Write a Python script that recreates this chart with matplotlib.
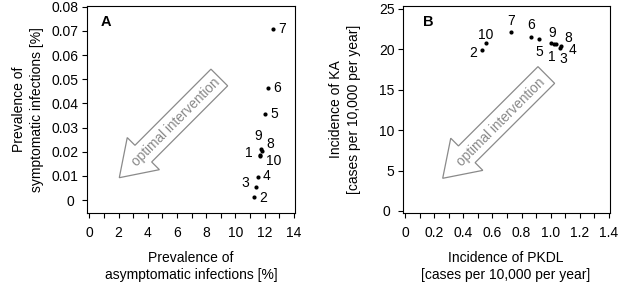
import numpy as np
import matplotlib
matplotlib.use("Agg")
import matplotlib.pyplot as plt
from matplotlib.patches import Polygon

plt.rcParams['font.family'] = ['Liberation Sans', 'DejaVu Sans']
plt.rcParams['font.size'] = 10

# ---------------- data ----------------
scenario = ['1', '2', '3', '4', '5', '6', '7', '8', '9', '10']
asym_prev = [11.66, 11.27, 11.38, 11.52, 12.02, 12.24, 12.54, 11.78, 11.76, 11.70]
sym_prev = [0.0186, 0.0011, 0.0052, 0.0094, 0.0354, 0.0462, 0.0707, 0.0202, 0.0211, 0.0182]
pkdl_inc = [1.02, 0.53, 1.065, 1.07, 0.92, 0.865, 0.725, 1.035, 1.00, 0.555]
ka_inc = [20.7, 19.95, 20.2, 20.45, 21.25, 21.55, 22.1, 20.7, 20.75, 20.75]

xticks_a = [0, 2, 4, 6, 8, 10, 12, 14]
yticks_a = [0, 0.01, 0.02, 0.03, 0.04, 0.05, 0.06, 0.07, 0.08]
yticklabels_a = ['0 ', '0.01', '0.02', '0.03', '0.04', '0.05', '0.06', '0.07', '0.08']
xticks_b = [0, 0.2, 0.4, 0.6, 0.8, 1.0, 1.2, 1.4]
xticklabels_b = ['0', '0.2', '0.4', '0.6', '0.8', '1.0', '1.2', '1.4']
yticks_b = [0, 5, 10, 15, 20, 25]
yticklabels_b = ['0 ', '5', '10', '15', '20', '25']

# label offsets (pixels, +y = down) for the scenario numbers
off_a = [(-11, -2), (9, 1), (-10, -4), (9, -1), (9, 0), (9, 0), (9, 0), (9, -7), (-3, -13), (13, 5)]
off_b = [(-2, 13), (-9, 3), (3, 11), (12, 4), (0, 13), (0, -12), (0, -11), (12, -6), (1, -10), (0, -8)]

W, H = 622, 287
fig = plt.figure(figsize=(W / 100, H / 100), dpi=100)

axA = fig.add_axes([87 / W, (H - 213) / H, 208 / W, 207 / H])
axB = fig.add_axes([403 / W, (H - 213) / H, 207 / W, 207 / H])

def style(ax):
    for s in ax.spines.values():
        s.set_linewidth(0.8)
        s.set_color('black')
    ax.tick_params(direction='out', length=3.6, width=0.8, colors='black',
                   labelsize=10)
    ax.tick_params(axis='x', which='both', pad=5.5, length=3.6, width=0.8)
    ax.tick_params(axis='y', pad=2.5)

px2pt = 0.72

# ---- Panel A ----
axA.scatter(asym_prev, sym_prev, s=9, color='black', zorder=3, linewidths=0)
for lab, x, y, (dx, dy) in zip(scenario, asym_prev, sym_prev, off_a):
    axA.annotate(lab, (x, y), xytext=(dx * px2pt, -dy * px2pt),
                 textcoords='offset points', ha='center', va='center', fontsize=10)
axA.set_xlim(-0.157, 14.07)
axA.set_ylim(-0.00537, 0.0803)
axA.set_xticks(xticks_a)
axA.set_xticks(np.arange(0, 15, 1), minor=True)
axA.set_yticks(yticks_a)
axA.set_yticklabels(yticklabels_a)
style(axA)
axA.text(0.066, 0.957, 'A', transform=axA.transAxes, fontweight='bold',
         fontsize=10.5, ha='left', va='top')

# ---- Panel B ----
axB.scatter(pkdl_inc, ka_inc, s=9, color='black', zorder=3, linewidths=0)
for lab, x, y, (dx, dy) in zip(scenario, pkdl_inc, ka_inc, off_b):
    axB.annotate(lab, (x, y), xytext=(dx * px2pt, -dy * px2pt),
                 textcoords='offset points', ha='center', va='center', fontsize=10)
axB.set_xlim(-0.0137, 1.407)
axB.set_ylim(-0.25, 25.37)
axB.set_xticks(xticks_b)
axB.set_xticklabels(xticklabels_b)
axB.set_xticks(np.arange(0, 1.45, 0.1), minor=True)
axB.set_yticks(yticks_b)
axB.set_yticklabels(yticklabels_b)
style(axB)
axB.text(0.098, 0.957, 'B', transform=axB.transAxes, fontweight='bold',
         fontsize=10.5, ha='left', va='top')

# ---- axis labels ----
fig.text(191 / W, 1 - 266.5 / H, 'Prevalence of\nasymptomatic infections [%]',
         ha='center', va='center', multialignment='center', linespacing=1.3)
fig.text(506 / W, 1 - 266.5 / H, 'Incidence of PKDL\n[cases per 10,000 per year]',
         ha='center', va='center', multialignment='center', linespacing=1.3)
fig.text(28 / W, 1 - 109.5 / H, 'Prevalence of\nsymptomatic infections [%]',
         ha='center', va='center', rotation=90, multialignment='center', linespacing=1.3)
fig.text(345 / W, 1 - 109.5 / H, 'Incidence of KA\n[cases per 10,000 per year]',
         ha='center', va='center', rotation=90, multialignment='center', linespacing=1.3)

# ---- "optimal intervention" arrows (pixel geometry) ----
def hollow_arrow(tail, tip, sw=11.8, hw=22.7, hl=34.0):
    T = np.array(tail, float)
    P = np.array(tip, float)
    u = (P - T) / np.linalg.norm(P - T)
    n = np.array([-u[1], u[0]])
    J = P - u * hl
    pts = [T + n * sw, J + n * sw, J + n * hw, P, J - n * hw, J - n * sw, T - n * sw]
    pts = np.array([(p[0] / W, 1 - p[1] / H) for p in pts])
    fig.patches.append(Polygon(pts, closed=True, transform=fig.transFigure,
                               facecolor='white', edgecolor='#8a8a8a', linewidth=0.9,
                               zorder=2))

hollow_arrow((219.3, 77.5), (119.3, 177.7))
hollow_arrow((546.3, 75.0), (442.7, 178.3))
fig.text(176 / W, 1 - 122 / H, 'optimal intervention', rotation=45, color='#8a8a8a',
         ha='center', va='center', fontsize=9.8, rotation_mode='anchor')
fig.text(501 / W, 1 - 122.5 / H, 'optimal intervention', rotation=45, color='#8a8a8a',
         ha='center', va='center', fontsize=9.8, rotation_mode='anchor')

fig.savefig('out.png', dpi=100)
